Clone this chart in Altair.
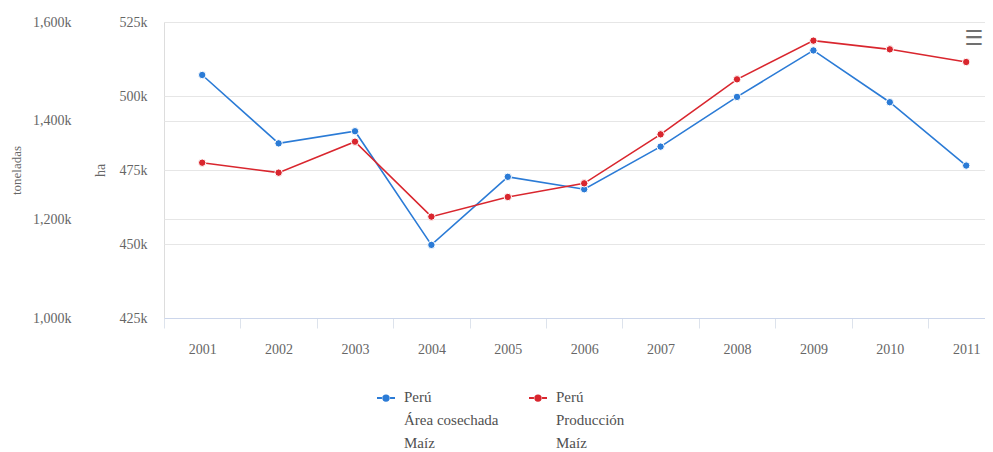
import altair as alt
import pandas as pd

years = [2001, 2002, 2003, 2004, 2005, 2006, 2007, 2008, 2009, 2010, 2011]
area_ha = [507100, 484000, 488100, 449700, 472700, 468500, 482900, 499700, 515400, 497900, 476500]
produccion_t = [1314800, 1294600, 1357400, 1205400, 1245300, 1273000, 1372300, 1483800, 1562200, 1544600, 1518900]

serie_area = "Perú|Área cosechada|Maíz"
serie_prod = "Perú|Producción|Maíz"
series = [serie_area, serie_prod]
colors = ["#2b7bd6", "#d9262e"]

ha_ticks = [425000, 450000, 475000, 500000, 525000]
ton_ticks = [1000000, 1200000, 1400000, 1600000]
band_edges = [2000.5, 2001.5, 2002.5, 2003.5, 2004.5, 2005.5, 2006.5, 2007.5, 2008.5, 2009.5, 2010.5]

df_area = pd.DataFrame({"anio": years, "valor": area_ha, "serie": serie_area})
df_prod = pd.DataFrame({"anio": years, "valor": produccion_t, "serie": serie_prod})

FONT = "Liberation Serif"
GRID = "#e6e6e6"
LABEL = "#666666"

xscale = alt.Scale(domain=[2000.5, 2011.246], nice=False, zero=False)

x_ticks = alt.X(
    "anio:Q", scale=xscale, title=None,
    axis=alt.Axis(orient="bottom", values=band_edges, labels=False, ticks=True, tickSize=10,
                  tickColor="#dde3ec", domain=True, domainColor="#ccd6eb",
                  grid=False),
)
x_labels = alt.X(
    "anio:Q", scale=xscale, title=None,
    axis=alt.Axis(orient="bottom", values=years, format="d", ticks=False, domain=False, grid=False,
                  labelPadding=24, labelFlush=False, labelOverlap=False,
                  labelFont=FONT, labelFontSize=14, labelColor=LABEL),
)

# legend symbol: short line with a dot, drawn level with the first label line
sym = ("M-1,0.9H-0.45M0.45,0.9H1"
       "M0.3,0.9A0.3,0.3,0,1,1,-0.3,0.9A0.3,0.3,0,1,1,0.3,0.9Z")
legend = alt.Legend(
    title=None, orient="none", legendX=212, legendY=358, direction="horizontal",
    columns=2, columnPadding=26, padding=0,
    labelExpr="split(datum.label, '|')", labelFont=FONT, labelFontSize=15,
    labelColor="#505050", labelOffset=8, labelBaseline="top", labelLimit=300,
    symbolType=sym, symbolSize=324, symbolStrokeWidth=2,
)
color = alt.Color("serie:N", scale=alt.Scale(domain=series, range=colors), legend=legend)

y_ha = alt.Y(
    "valor:Q", scale=alt.Scale(domain=[425000, 525000], nice=False, zero=False),
    axis=alt.Axis(orient="left", values=ha_ticks, labelExpr="format(datum.value/1000, ',') + 'k'",
                  ticks=False, domain=False, grid=True, gridColor=GRID, labelPadding=17,
                  labelFont=FONT, labelFontSize=14, labelColor=LABEL,
                  title="ha", titleFont=FONT, titleFontSize=14, titleFontWeight="normal",
                  titleColor=LABEL, titlePadding=12),
)
y_ton = alt.Y(
    "valor:Q", scale=alt.Scale(domain=[1000000, 1600000], nice=False, zero=False),
    axis=alt.Axis(orient="left", offset=76, values=ton_ticks,
                  labelExpr="format(datum.value/1000, ',') + 'k'",
                  ticks=False, domain=False, grid=True, gridColor=GRID, labelPadding=17,
                  labelFont=FONT, labelFontSize=14, labelColor=LABEL,
                  title="toneladas", titleFont=FONT, titleFontSize=13, titleFontWeight="normal",
                  titleColor=LABEL, titlePadding=9),
)

area_base = alt.Chart(df_area)
area_layer = alt.layer(
    area_base.mark_line(strokeWidth=1.6).encode(x=x_ticks, y=y_ha, color=color),
    area_base.mark_circle(size=55, opacity=1, stroke="white", strokeWidth=1).encode(x=x_ticks, y=y_ha, color=color),
)
prod_base = alt.Chart(df_prod)
prod_layer = alt.layer(
    prod_base.mark_line(strokeWidth=1.6).encode(x=x_labels, y=y_ton, color=color),
    prod_base.mark_circle(size=55, opacity=1, stroke="white", strokeWidth=1).encode(x=x_labels, y=y_ton, color=color),
)

menu = alt.Chart(pd.DataFrame({"t": ["☰"]})).mark_text(
    font="DejaVu Sans", fontSize=21, color="#707070", align="center", baseline="middle"
).encode(text="t:N", x=alt.value(810), y=alt.value(17))

chart = alt.layer(area_layer, prod_layer, menu).resolve_scale(
    y="independent"
).resolve_axis(x="independent", y="independent").properties(
    width=821, height=296,
    autosize=alt.AutoSizeParams(type="none"),
    padding={"left": 156, "top": 14, "right": 0, "bottom": 134},
).configure_view(stroke=None).configure(
    style={"guide-label": {"lineHeight": 23, "font": FONT}}
).configure_legend(labelFont=FONT)

chart.save("out.html", embed_options={"renderer": "svg", "actions": False})
